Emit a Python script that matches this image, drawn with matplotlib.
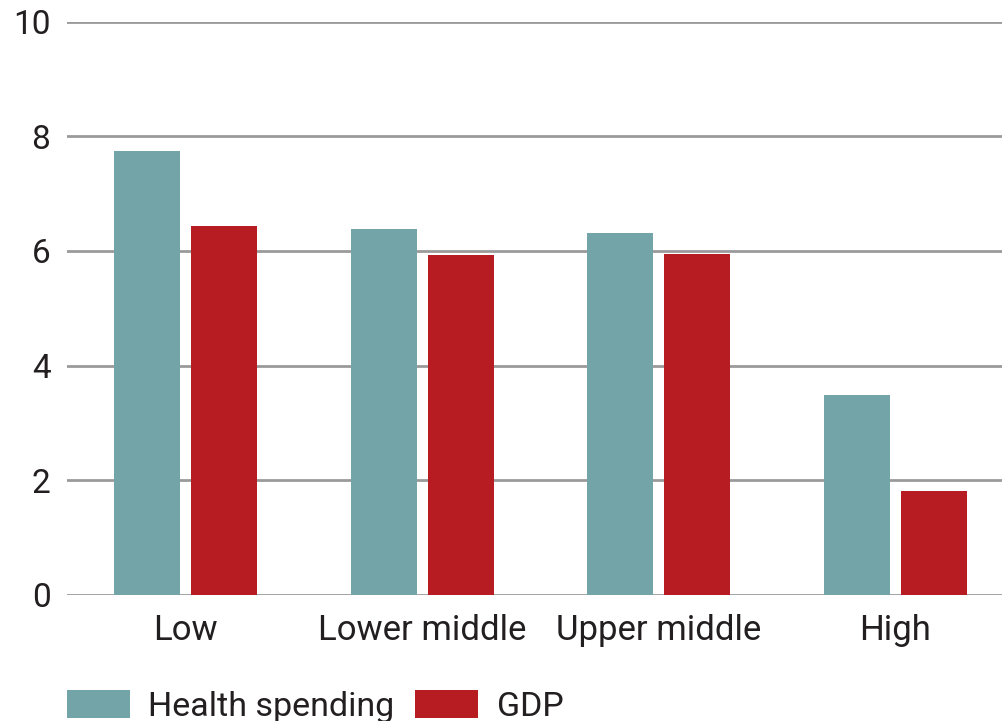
import matplotlib
matplotlib.use("Agg")
import matplotlib.pyplot as plt
import numpy as np

categories = ["Low", "Lower middle", "Upper middle", "High"]
health = [7.75, 6.38, 6.32, 3.49]
gdp = [6.44, 5.92, 5.95, 1.82]
yticks = [0, 2, 4, 6, 8, 10]

teal = "#72a4a8"
red = "#b71c22"

plt.rcParams["font.family"] = ["Roboto", "DejaVu Sans"]

fig = plt.figure(figsize=(10.02, 7.21), dpi=100)
ax = fig.add_axes([0.067, 0.175, 0.933, 0.795])

x = np.arange(len(categories))
w = 0.278
off = 0.1625
ax.bar(x - off, health, w, color=teal, label="Health spending", zorder=3)
ax.bar(x + off, gdp, w, color=red, label="GDP", zorder=3)

ax.set_ylim(0, 10)
ax.set_xlim(-0.5, 3.45)
ax.set_yticks(yticks)
ax.set_xticks(x)
ax.set_xticklabels(categories)
ax.yaxis.grid(True, color="#9a9a9a", linewidth=2, zorder=0)
ax.set_axisbelow(True)
for s in ax.spines.values():
    s.set_visible(False)
ax.tick_params(axis="both", length=0, colors="#231f20")
ax.tick_params(axis="y", pad=12, labelsize=24)
ax.tick_params(axis="x", pad=14, labelsize=25)

fig.legend(loc="lower left", bbox_to_anchor=(0.036, -0.045), ncol=2, frameon=False,
           fontsize=24.5, handlelength=1.85, handleheight=0.88, handletextpad=0.55,
           columnspacing=0.6, labelcolor="#231f20")

fig.savefig("out.png", dpi=100)
